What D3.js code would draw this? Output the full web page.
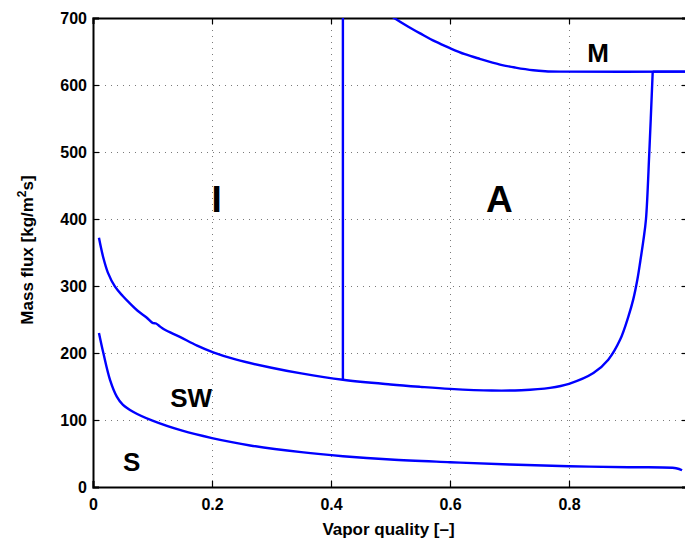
<!DOCTYPE html>
<html>
<head>
<meta charset="utf-8">
<script src="https://cdn.jsdelivr.net/npm/d3@7"></script>
<style>
  html, body { margin: 0; padding: 0; background: #fff; }
  svg { display: block; font-family: "Liberation Sans", Arial, Helvetica, sans-serif; font-weight: bold; }
</style>
</head>
<body>
<svg id="chart" width="685" height="540"></svg>
<script>
// Flow pattern map boundaries: mass flux vs vapor quality
const xTicks = [0, 0.2, 0.4, 0.6, 0.8];
const yTicks = [0, 100, 200, 300, 400, 500, 600, 700];

// Stratified / stratified-wavy boundary
const boundarySX = [0.01, 0.0174, 0.0286, 0.04, 0.05, 0.068, 0.1, 0.15, 0.2, 0.264, 0.35, 0.42, 0.5, 0.6, 0.7, 0.8, 0.9, 0.98, 0.99];
const boundarySG = [230, 200, 160, 135, 123, 112, 99, 84, 73, 62, 52, 46, 41, 37, 33.5, 31, 29.5, 28, 25];

// Stratified-wavy / intermittent-annular boundary, rising into dryout
const boundaryWX = [0.01, 0.0174, 0.025, 0.037, 0.05, 0.062, 0.075, 0.09, 0.1, 0.106, 0.112, 0.12, 0.146, 0.175, 0.202, 0.241, 0.3, 0.35, 0.42, 0.5, 0.55, 0.6, 0.67, 0.72, 0.768, 0.8, 0.841, 0.866, 0.886, 0.9, 0.908, 0.915, 0.92, 0.925, 0.9294, 0.935, 0.9407];
const boundaryWG = [372, 342, 320, 299, 285, 274, 263, 253, 245, 244, 240, 235, 224, 211, 201, 190, 178, 169.5, 160, 153, 149.5, 146.5, 144, 144.5, 148, 154, 170, 190, 220, 255, 280, 310, 338, 368, 400, 500, 620];

// Annular / mist boundary
const boundaryMX = [0.48, 0.506, 0.53, 0.55, 0.575, 0.6, 0.625, 0.65, 0.684, 0.71, 0.74, 0.76, 0.785, 1.0];
const boundaryMG = [716, 700, 687, 677, 665, 655, 646, 639, 630.5, 626, 622, 620.6, 620, 620];

// Intermittent / annular transition quality
const transitionX = [0.42, 0.42];
const transitionG = [160, 700];

// Dryout plateau joining the mist boundary
const plateauX = [0.9407, 1.0];
const plateauG = [620, 620];

const regionLabels = [
  { text: "I", x: 0.208, g: 410, size: 37 },
  { text: "A", x: 0.683, g: 410, size: 37 },
  { text: "M", x: 0.849, g: 635, size: 26 },
  { text: "SW", x: 0.165, g: 119, size: 26 },
  { text: "S", x: 0.065, g: 24, size: 26 }
];

const svg = d3.select("#chart");
const margin = { left: 93, top: 18, right: 688, bottom: 487 };

const x = d3.scaleLinear().domain([0, 1]).range([margin.left, margin.right]);
const y = d3.scaleLinear().domain([0, 700]).range([margin.bottom, margin.top]);

// clip to plot area
svg.append("defs").append("clipPath").attr("id", "plotClip")
  .append("rect")
  .attr("x", margin.left).attr("y", margin.top)
  .attr("width", margin.right - margin.left).attr("height", margin.bottom - margin.top);

// grid
const grid = svg.append("g").attr("stroke", "#7a7a7a").attr("stroke-width", 1).attr("stroke-dasharray", "1,5");
grid.selectAll("line.gx").data(xTicks.slice(1)).join("line")
  .attr("x1", d => Math.round(x(d)) + 0.5).attr("x2", d => Math.round(x(d)) + 0.5)
  .attr("y1", margin.top).attr("y2", margin.bottom);
grid.selectAll("line.gy").data(yTicks.slice(1, -1)).join("line")
  .attr("y1", d => Math.round(y(d)) + 0.5).attr("y2", d => Math.round(y(d)) + 0.5)
  .attr("x1", margin.left).attr("x2", margin.right);

// axes with inward ticks
const tickLen = 6;
const xAxis = svg.append("g").attr("transform", `translate(0,${margin.bottom})`)
  .call(d3.axisBottom(x).tickValues(xTicks).tickFormat(d => d === 0 ? "0" : d3.format(".1f")(d)).tickSize(-tickLen).tickPadding(12));
const xAxisTop = svg.append("g").attr("transform", `translate(0,${margin.top})`)
  .call(d3.axisTop(x).tickValues(xTicks).tickSize(-tickLen).tickFormat(""));
const yAxis = svg.append("g").attr("transform", `translate(${margin.left},0)`)
  .call(d3.axisLeft(y).tickValues(yTicks).tickSize(-tickLen).tickPadding(6));
const yAxisRight = svg.append("g").attr("transform", `translate(${margin.right},0)`)
  .call(d3.axisRight(y).tickValues(yTicks).tickSize(-tickLen).tickFormat(""));

[xAxis, xAxisTop, yAxis, yAxisRight].forEach(a => {
  a.select(".domain").attr("stroke", "#000").attr("stroke-width", 2);
  a.selectAll(".tick line").attr("stroke", "#000").attr("stroke-width", 1.2);
  a.selectAll("text").attr("fill", "#000").attr("font-size", 16).attr("font-weight", "bold")
    .attr("font-family", "'Liberation Sans', Arial, sans-serif");
});

// boundary curves
const line = d3.line().x(d => x(d[0])).y(d => y(d[1])).curve(d3.curveCatmullRom.alpha(0.5));
const lineStraight = d3.line().x(d => x(d[0])).y(d => y(d[1]));
const curves = svg.append("g").attr("clip-path", "url(#plotClip)")
  .attr("fill", "none").attr("stroke", "#0000ff").attr("stroke-width", 2.4)
  .attr("stroke-linejoin", "round");

curves.append("path").attr("d", line(d3.zip(boundarySX, boundarySG)));
curves.append("path").attr("d", line(d3.zip(boundaryWX, boundaryWG)));
curves.append("path").attr("d", line(d3.zip(boundaryMX, boundaryMG)));
curves.append("path").attr("d", lineStraight(d3.zip(plateauX, plateauG)));
curves.append("path").attr("d", lineStraight(d3.zip(transitionX, transitionG)));

// region labels
svg.append("g").selectAll("text").data(regionLabels).join("text")
  .attr("x", d => x(d.x)).attr("y", d => y(d.g))
  .attr("text-anchor", "middle").attr("font-size", d => d.size)
  .attr("fill", "#000").text(d => d.text);

// axis titles
svg.append("text").attr("x", (margin.left + 688) / 2 - 2).attr("y", 535)
  .attr("text-anchor", "middle").attr("font-size", 17).attr("fill", "#000")
  .text("Vapor quality [\u2013]");

const yl = svg.append("text").attr("transform", "translate(33,250) rotate(-90)")
  .attr("text-anchor", "middle").attr("font-size", 17).attr("fill", "#000");
yl.append("tspan").text("Mass flux [kg/m");
yl.append("tspan").attr("dy", -7).attr("font-size", 12).text("2");
yl.append("tspan").attr("dy", 7).text("s]");
</script>
</body>
</html>
